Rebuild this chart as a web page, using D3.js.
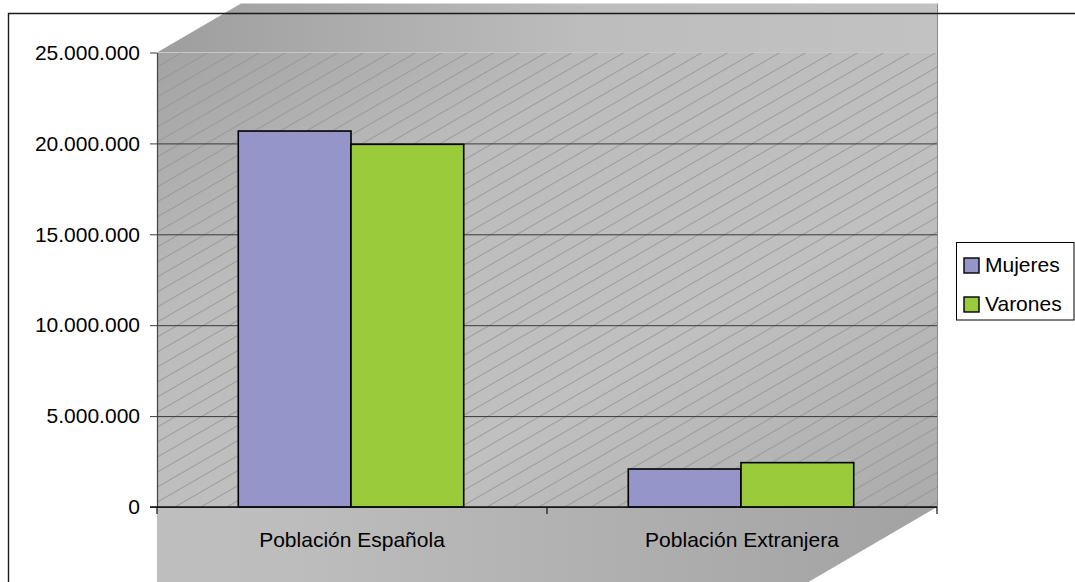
<!DOCTYPE html>
<html>
<head>
<meta charset="utf-8">
<script src="https://cdn.jsdelivr.net/npm/d3@7"></script>
<style>
  html, body { margin: 0; padding: 0; background: #fff; }
  svg { display: block; font-family: "Liberation Sans", Arial, sans-serif; }
</style>
</head>
<body>
<svg id="chart" width="1075" height="582"></svg>
<script>
// Población por nacionalidad y sexo
const categories = ["Población Española", "Población Extranjera"];
const seriesNames = ["Mujeres", "Varones"];
const mujeres = [20680000, 2090000];
const varones = [19950000, 2440000];
const yTicks = [0, 5000000, 10000000, 15000000, 20000000, 25000000];
const seriesColors = ["#9595c9", "#99cb3a"];

const svg = d3.select("#chart");
const W = 1075, H = 582;

const plot = { left: 157, right: 937, top: 52.5, bottom: 507 };
const depth = { dx: 84, dy: 49 };

const y = d3.scaleLinear().domain([0, 25000000]).range([plot.bottom, plot.top]);
const x0 = d3.scaleBand().domain(categories).range([plot.left, plot.right]).padding(0);
const x1 = d3.scaleBand().domain(seriesNames).range([0, x0.bandwidth()])
  .paddingInner(0).paddingOuter(0.73);

const es = d3.formatLocale({ decimal: ",", thousands: ".", grouping: [3], currency: ["", " €"] });
const fmt = es.format(",d");
const FONT = 21;

const defs = svg.append("defs");

// wall shading: darker at two opposite corners, lighter through the middle
const wallGrad = defs.append("linearGradient").attr("id", "wallGrad")
  .attr("x1", 0).attr("y1", 0).attr("x2", 1).attr("y2", 1);
wallGrad.append("stop").attr("offset", 0).attr("stop-color", "#a3a3a3");
wallGrad.append("stop").attr("offset", 0.3).attr("stop-color", "#bcbcbc");
wallGrad.append("stop").attr("offset", 0.65).attr("stop-color", "#c0c0c0");
wallGrad.append("stop").attr("offset", 1).attr("stop-color", "#ababab");

const topGrad = defs.append("linearGradient").attr("id", "topGrad")
  .attr("x1", 0).attr("y1", 0).attr("x2", 1).attr("y2", 0);
topGrad.append("stop").attr("offset", 0).attr("stop-color", "#9e9e9e");
topGrad.append("stop").attr("offset", 0.55).attr("stop-color", "#bdbdbd");
topGrad.append("stop").attr("offset", 1).attr("stop-color", "#c2c2c2");

const floorGrad = defs.append("linearGradient").attr("id", "floorGrad")
  .attr("x1", 0).attr("y1", 0).attr("x2", 1).attr("y2", 0);
floorGrad.append("stop").attr("offset", 0).attr("stop-color", "#c2c2c2");
floorGrad.append("stop").attr("offset", 0.45).attr("stop-color", "#bdbdbd");
floorGrad.append("stop").attr("offset", 1).attr("stop-color", "#a2a2a2");

// diagonal hatch over the back wall
const hatch = defs.append("pattern").attr("id", "hatch")
  .attr("patternUnits", "userSpaceOnUse")
  .attr("width", 40).attr("height", 13)
  .attr("patternTransform", "rotate(-30)");
hatch.append("line").attr("x1", 0).attr("x2", 40).attr("y1", 6.5).attr("y2", 6.5)
  .attr("stroke", "#939393").attr("stroke-width", 0.8);

const clip = defs.append("clipPath").attr("id", "floorClip");
clip.append("rect").attr("x", plot.left).attr("y", plot.bottom).attr("width", W).attr("height", H);

// ceiling
svg.append("path")
  .attr("d", d3.line()([
    [plot.left, plot.top],
    [plot.left + depth.dx, plot.top - depth.dy],
    [plot.right, plot.top - depth.dy],
    [plot.right, plot.top]
  ]) + "Z")
  .attr("fill", "url(#topGrad)");

// floor
const k = 200;
svg.append("path")
  .attr("clip-path", "url(#floorClip)")
  .attr("d", d3.line()([
    [plot.left - 400, plot.bottom],
    [plot.right, plot.bottom],
    [plot.right - depth.dx / depth.dy * k, plot.bottom + k],
    [plot.left - 400, plot.bottom + k]
  ]) + "Z")
  .attr("fill", "url(#floorGrad)");

// back wall
svg.append("rect")
  .attr("x", plot.left).attr("y", plot.top)
  .attr("width", plot.right - plot.left).attr("height", plot.bottom - plot.top)
  .attr("fill", "url(#wallGrad)");
svg.append("rect")
  .attr("x", plot.left).attr("y", plot.top)
  .attr("width", plot.right - plot.left).attr("height", plot.bottom - plot.top)
  .attr("fill", "url(#hatch)");

svg.append("line")
  .attr("x1", plot.left).attr("x2", plot.right)
  .attr("y1", plot.top).attr("y2", plot.top)
  .attr("stroke", "#c8c8c8").attr("stroke-width", 1);
svg.append("line")
  .attr("x1", plot.right + 0.5).attr("x2", plot.right + 0.5)
  .attr("y1", plot.top - depth.dy).attr("y2", plot.bottom)
  .attr("stroke", "#8a8a8a").attr("stroke-width", 1);

// gridlines and y axis
const yAxis = d3.axisLeft(y).tickValues(yTicks).tickFormat(fmt)
  .tickSizeInner(-(plot.right - plot.left)).tickSizeOuter(0).tickPadding(10);
const gy = svg.append("g").attr("transform", `translate(${plot.left},0)`).call(yAxis);
gy.select(".domain").attr("stroke", "#444").attr("stroke-width", 1.2);
gy.selectAll(".tick line").attr("stroke", "#3a3a3a").attr("stroke-width", 1)
  .attr("x1", -7);
gy.selectAll(".tick").filter(d => d === 25000000).select("line").attr("x2", 0);
gy.selectAll(".tick text")
  .attr("font-size", FONT).attr("fill", "#000")
  .attr("font-family", "'Liberation Sans', Arial, sans-serif")
  .attr("x", -17);

// bars
const data = categories.map((c, i) => ({ cat: c, values: [mujeres[i], varones[i]] }));
const groups = svg.append("g").selectAll("g").data(data).join("g")
  .attr("transform", d => `translate(${x0(d.cat) - 1},0)`);
groups.selectAll("rect")
  .data(d => d.values.map((v, j) => ({ name: seriesNames[j], value: v, color: seriesColors[j] })))
  .join("rect")
  .attr("x", d => x1(d.name))
  .attr("y", d => y(d.value))
  .attr("width", x1.bandwidth())
  .attr("height", d => y(0) - y(d.value))
  .attr("fill", d => d.color)
  .attr("stroke", "#000").attr("stroke-width", 1.6);

// category axis
const xAxis = d3.axisBottom(x0).tickSize(0).tickPadding(0);
const gx = svg.append("g").attr("transform", `translate(0,${plot.bottom})`).call(xAxis);
gx.select(".domain").remove();
gx.selectAll(".tick text")
  .attr("font-size", FONT).attr("fill", "#000")
  .attr("font-family", "'Liberation Sans', Arial, sans-serif")
  .attr("dy", 0).attr("y", 40);
svg.append("line")
  .attr("x1", plot.left - 7).attr("x2", plot.right)
  .attr("y1", plot.bottom).attr("y2", plot.bottom)
  .attr("stroke", "#111").attr("stroke-width", 1.4);
const bounds = [plot.left].concat(categories.map(c => x0(c) + x0.bandwidth()));
svg.append("g").selectAll("line").data(bounds).join("line")
  .attr("x1", d => d).attr("x2", d => d)
  .attr("y1", plot.bottom).attr("y2", plot.bottom + 7)
  .attr("stroke", "#111").attr("stroke-width", 1.2);

// chart frame
svg.append("path")
  .attr("d", `M8.5,${H}V13.5H${W}`)
  .attr("fill", "none").attr("stroke", "#1a1a1a").attr("stroke-width", 1.4);

// legend
const legend = svg.append("g");
legend.append("rect")
  .attr("x", 956.5).attr("y", 242.5).attr("width", 117.5).attr("height", 77.5)
  .attr("fill", "#fff").attr("stroke", "#000").attr("stroke-width", 1);
const items = legend.selectAll("g.item").data(seriesNames).join("g")
  .attr("class", "item")
  .attr("transform", (d, i) => `translate(964,${258 + i * 39})`);
items.append("rect")
  .attr("width", 15).attr("height", 15)
  .attr("fill", (d, i) => seriesColors[i])
  .attr("stroke", "#000").attr("stroke-width", 1.4);
items.append("text")
  .attr("x", 21).attr("y", 14)
  .attr("font-size", FONT).attr("fill", "#000")
  .text(d => d);
</script>
</body>
</html>
